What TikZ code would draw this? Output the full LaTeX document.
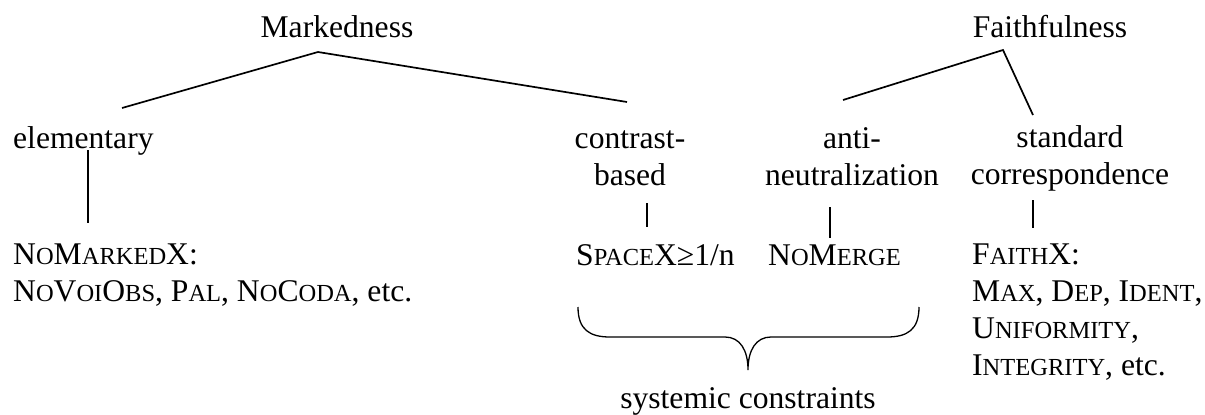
\documentclass[tikz,border=0pt]{standalone}
\usepackage{fontspec}
\setmainfont{Liberation Serif}
\newcommand\lsc[1]{{\fontsize{24.5}{37}\selectfont #1}}
\begin{document}
\begin{tikzpicture}[x=1pt,y=-1pt,
    lbl/.style={inner sep=0pt,font=\fontsize{31.6}{37}\selectfont},
    edge/.style={line width=1.7pt}]
      \useasboundingbox (0,0) rectangle (1205,415);
      \node [lbl,anchor=base] (mark) at (337,37) {Markedness};
      \node [lbl,anchor=base] (faith) at (1050,37) {Faithfulness};
      \node [lbl,anchor=base west] (elem) at (13,148) {elementary};
      \node [lbl,anchor=base,align=center] (contr) at (630,185) {contrast-\\based};
      \node [lbl,anchor=base,align=center] (anti) at (852,185) {anti-\\neutralization};
      \node [lbl,anchor=base,align=center] (stand) at (1070,184) {standard\\correspondence};
      \node [lbl,anchor=base west,align=left] (nomark) at (13,301)
        {N\lsc{O}M\lsc{ARKED}X:\\N\lsc{O}V\lsc{OI}O\lsc{BS}, P\lsc{AL}, N\lsc{O}C\lsc{ODA}, etc.};
      \node [lbl,anchor=base west] (space) at (576,265) {S\lsc{PACE}X≥1/n};
      \node [lbl,anchor=base west] (merge) at (768,265) {N\lsc{O}M\lsc{ERGE}};
      \node [lbl,anchor=base west,align=left] (faithx) at (972,375)
        {F\lsc{AITH}X:\\M\lsc{AX}, D\lsc{EP}, I\lsc{DENT},\\U\lsc{NIFORMITY},\\I\lsc{NTEGRITY}, etc.};
      \node [lbl,anchor=base] (sys) at (748,408) {systemic constraints};
      \coordinate (markTip) at (318,52);
      \coordinate (elemTop) at (122,108);
      \coordinate (contrTop) at (627,102);
      \coordinate (faithTip) at (1003,50);
      \coordinate (antiTop) at (843,100);
      \coordinate (standTop) at (1033,115);
      \draw [edge] (elemTop) -- (markTip) -- (contrTop);
      \draw [edge] (antiTop) -- (faithTip) -- (standTop);
      \coordinate (elemBot) at (88,150);
      \coordinate (nomarkTop) at (88,223);
      \coordinate (contrBot) at (647,203);
      \coordinate (spaceTop) at (647,227);
      \coordinate (antiBot) at (830,207);
      \coordinate (mergeTop) at (830,238);
      \coordinate (standBot) at (1033,200);
      \coordinate (faithxTop) at (1033,228);
      \draw [edge] (elemBot) -- (nomarkTop);
      \draw [edge] (contrBot) -- (spaceTop);
      \draw [edge] (antiBot) -- (mergeTop);
      \draw [edge] (standBot) -- (faithxTop);
      \coordinate (braceL) at (578,307);
      \coordinate (braceTip) at (748,370);
      \coordinate (braceR) at (919,307);
      \draw [line width=1.3pt] (braceL) .. controls (578,330) and (590,337) .. (610,337) -- (725,337)
        .. controls (740,337) and (748,350) .. (braceTip)
        .. controls (748,350) and (756,337) .. (771,337) -- (887,337)
        .. controls (907,337) and (919,330) .. (braceR);
\end{tikzpicture}
\end{document}
